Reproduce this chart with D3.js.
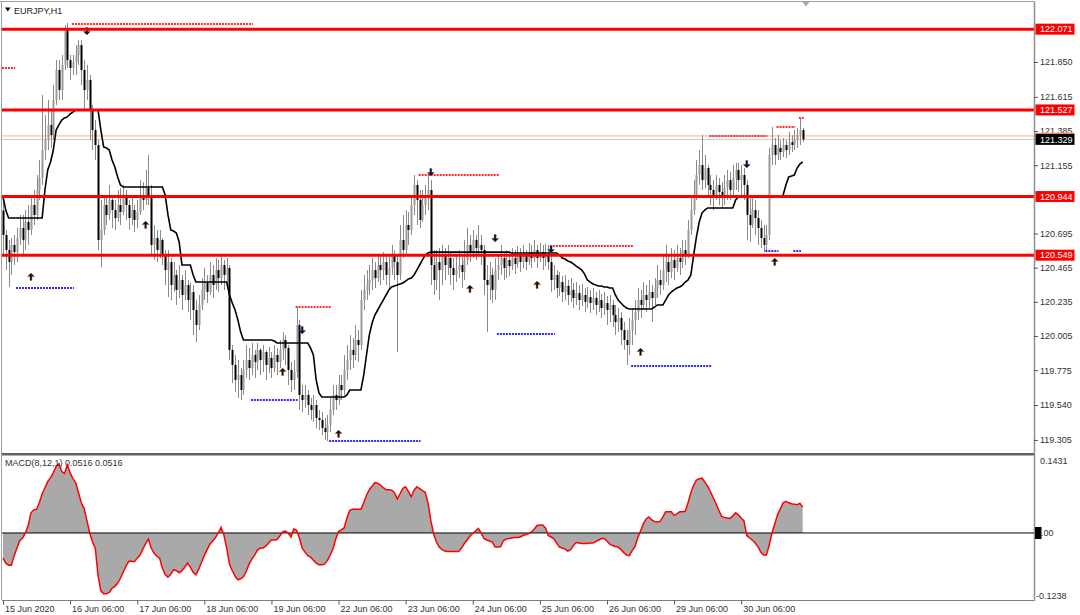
<!DOCTYPE html>
<html><head><meta charset="utf-8">
<script src="https://cdn.jsdelivr.net/npm/d3@7"></script>
<style>
body{margin:0;background:#fff;}
svg{display:block;font-family:"Liberation Sans",Arial,sans-serif;}
</style>
</head><body>
<svg id="c" width="1080" height="615"></svg>
<script>
// ---------------- DATA ----------------
const symbolTitle = "EURJPY,H1";
const macdTitle = "MACD(8,12,1) 0.0516 0.0516";
const firstOpen = 120.85;
const closes = [120.685,120.584,120.503,120.618,120.570,120.665,120.732,120.651,120.773,120.719,
120.887,120.820,120.988,121.069,121.257,121.325,121.426,121.358,121.594,121.796,
121.661,121.830,122.065,121.863,121.810,121.850,121.897,121.964,121.796,121.661,
121.729,121.527,121.392,121.291,120.651,120.719,120.887,120.820,120.921,120.853,
120.799,120.887,120.840,120.954,120.887,120.799,120.853,120.786,120.840,120.954,
120.921,121.002,120.954,120.618,120.665,120.584,120.651,120.550,120.449,120.503,
120.348,120.416,120.315,120.382,120.281,120.348,120.247,120.301,120.180,120.079,
120.214,120.315,120.368,120.301,120.416,120.348,120.449,120.395,120.483,120.416,
120.463,119.911,119.810,119.709,119.742,119.641,119.776,119.843,119.789,119.877,
119.830,119.911,119.843,119.897,119.810,119.857,119.789,119.877,119.830,119.911,
119.978,119.924,119.776,119.709,119.762,120.079,119.608,119.574,119.608,119.540,
119.507,119.540,119.453,119.439,119.385,119.358,119.406,119.507,119.608,119.574,
119.675,119.641,119.776,119.843,119.911,119.877,119.978,119.944,120.247,120.315,
120.348,120.382,120.449,120.395,120.483,120.449,120.503,120.416,120.463,120.550,
120.503,120.416,120.651,120.584,120.752,120.719,120.887,121.022,120.921,120.786,
120.887,120.954,120.988,120.483,120.382,120.503,120.449,120.550,120.483,120.530,
120.463,120.416,120.449,120.483,120.436,120.517,120.618,120.570,120.651,120.597,
120.618,120.584,120.382,120.348,120.416,120.315,120.449,120.483,120.530,120.463,
120.517,120.476,120.530,120.490,120.550,120.503,120.544,120.503,120.570,120.530,
120.584,120.530,120.570,120.530,120.557,120.503,120.382,120.416,120.328,120.368,
120.301,120.342,120.281,120.315,120.261,120.294,120.247,120.281,120.234,120.267,
120.227,120.261,120.214,120.247,120.193,120.227,120.180,120.214,120.146,120.099,
120.126,120.045,119.978,119.944,120.045,120.113,120.166,120.247,120.214,120.281,
120.247,120.301,120.261,120.328,120.382,120.348,120.449,120.503,120.436,120.517,
120.463,120.530,120.503,120.584,120.550,120.719,120.853,120.954,121.089,121.156,
121.055,121.136,121.022,120.988,120.954,121.022,120.975,120.934,121.002,121.055,
120.988,121.069,121.123,121.055,121.089,121.022,120.820,120.752,120.853,120.799,
120.732,120.665,120.618,120.685,121.224,121.291,121.224,121.271,121.244,121.291,
121.257,121.311,121.291,121.325,121.358,121.392,121.329];
const highs = [120.921,120.719,120.651,120.665,120.685,120.732,120.820,120.820,120.853,120.887,
120.954,120.988,121.089,121.190,121.628,121.493,121.594,121.527,121.695,121.863,
121.863,121.897,122.099,122.113,121.897,121.897,121.964,121.998,121.998,121.863,
121.830,121.762,121.560,121.459,121.325,120.921,120.954,120.954,121.022,120.954,
120.921,120.988,121.002,121.022,120.988,120.921,120.954,120.887,120.921,121.055,
121.042,121.123,121.224,121.022,120.752,120.719,120.719,120.665,120.584,120.584,
120.530,120.503,120.449,120.483,120.416,120.449,120.382,120.362,120.348,120.247,
120.281,120.395,120.463,120.416,120.503,120.483,120.530,120.517,120.537,120.517,
120.530,120.483,119.944,119.877,119.843,119.789,119.843,119.944,119.924,119.958,
119.911,119.958,119.924,119.944,119.911,119.931,119.897,119.944,119.924,119.978,
120.031,120.011,119.944,119.830,119.843,120.200,120.113,119.675,119.675,119.641,
119.588,119.608,119.574,119.507,119.493,119.453,119.473,119.588,119.675,119.675,
119.742,119.742,119.877,119.944,120.011,119.991,120.079,120.045,120.315,120.416,
120.449,120.483,120.530,120.503,120.550,120.550,120.570,120.550,120.550,120.618,
120.584,120.550,120.752,120.820,120.853,120.840,120.954,121.089,121.055,120.988,
120.988,121.022,121.089,121.055,120.584,120.584,120.597,120.618,120.597,120.618,
120.570,120.530,120.550,120.584,120.544,120.651,120.732,120.685,120.719,120.685,
120.752,120.685,120.618,120.483,120.503,120.463,120.530,120.550,120.618,120.570,
120.584,120.570,120.597,120.584,120.611,120.597,120.618,120.584,120.631,120.618,
120.651,120.618,120.631,120.618,120.624,120.618,120.550,120.483,120.449,120.436,
120.409,120.416,120.382,120.395,120.362,120.368,120.348,120.355,120.328,120.335,
120.315,120.328,120.301,120.315,120.288,120.301,120.274,120.281,120.247,120.214,
120.193,120.166,120.099,120.045,120.126,120.193,120.247,120.328,120.315,120.368,
120.348,120.382,120.348,120.395,120.483,120.449,120.550,120.618,120.550,120.597,
120.584,120.618,120.597,120.651,120.651,120.786,120.954,121.055,121.190,121.257,
121.358,121.224,121.156,121.089,121.055,121.089,121.069,121.042,121.089,121.123,
121.109,121.156,121.170,121.170,121.156,121.136,121.055,120.954,120.954,120.921,
120.853,120.786,120.752,120.752,121.271,121.412,121.338,121.358,121.325,121.338,
121.325,121.379,121.358,121.392,121.406,121.473,121.406];
const lows = [120.550,120.449,120.335,120.416,120.483,120.503,120.618,120.550,120.584,120.618,
120.685,120.752,120.786,120.921,121.022,121.190,121.257,121.271,121.325,121.560,
121.594,121.594,121.796,121.810,121.729,121.762,121.762,121.830,121.695,121.527,
121.594,121.325,121.257,121.190,120.584,120.469,120.685,120.752,120.786,120.732,
120.719,120.773,120.752,120.820,120.786,120.719,120.752,120.705,120.732,120.820,
120.853,120.887,120.887,120.550,120.517,120.503,120.530,120.483,120.348,120.267,
120.247,120.301,120.214,120.261,120.180,120.247,120.166,120.113,120.011,119.964,
120.045,120.180,120.247,120.227,120.281,120.261,120.315,120.301,120.348,120.315,
120.348,119.843,119.688,119.628,119.588,119.574,119.608,119.722,119.709,119.742,
119.722,119.776,119.742,119.762,119.709,119.756,119.722,119.762,119.742,119.789,
119.843,119.810,119.675,119.628,119.641,119.722,119.507,119.493,119.520,119.473,
119.439,119.426,119.385,119.372,119.338,119.305,119.298,119.358,119.473,119.507,
119.540,119.574,119.608,119.709,119.776,119.789,119.843,119.830,119.911,120.180,
120.247,120.281,120.315,120.328,120.368,120.348,120.382,120.348,120.315,120.416,
120.382,119.897,120.382,120.530,120.550,120.618,120.685,120.820,120.752,120.732,
120.773,120.820,120.853,120.348,120.281,120.315,120.247,120.348,120.382,120.416,
120.348,120.315,120.368,120.395,120.328,120.382,120.483,120.503,120.530,120.517,
120.550,120.483,120.281,120.031,120.247,120.227,120.247,120.382,120.416,120.382,
120.395,120.409,120.449,120.422,120.463,120.436,120.463,120.449,120.483,120.463,
120.503,120.463,120.503,120.449,120.476,120.449,120.301,120.315,120.261,120.274,
120.234,120.247,120.214,120.234,120.193,120.214,120.180,120.207,120.166,120.193,
120.160,120.180,120.146,120.166,120.126,120.146,120.079,120.099,120.065,120.011,
120.031,119.944,119.911,119.810,119.877,119.944,120.011,120.113,120.126,120.180,
120.166,120.193,120.099,120.214,120.261,120.281,120.315,120.368,120.348,120.395,
120.382,120.436,120.416,120.463,120.483,120.530,120.685,120.820,120.921,121.022,
120.988,121.002,120.954,120.887,120.853,120.921,120.887,120.867,120.887,120.921,
120.921,120.954,120.988,120.975,120.954,120.921,120.651,120.638,120.732,120.685,
120.618,120.597,120.570,120.584,120.651,121.156,121.156,121.190,121.190,121.210,
121.204,121.224,121.244,121.257,121.271,121.291,121.311];
// stepped trailing line (black)
const trail = [120.941,120.853,120.799,120.799,120.799,120.799,120.799,120.799,120.799,120.799,
120.799,120.799,120.799,120.799,120.799,120.988,121.123,121.177,121.257,121.392,
121.426,121.459,121.473,121.480,121.500,121.513,121.527,121.527,121.527,121.527,
121.527,121.527,121.527,121.527,121.527,121.392,121.278,121.271,121.257,121.190,
121.143,121.076,121.022,121.008,121.008,121.008,121.008,121.008,121.008,121.008,
121.008,121.008,121.008,121.008,121.008,121.008,121.008,121.008,120.954,120.820,
120.719,120.712,120.698,120.638,120.483,120.483,120.483,120.483,120.416,120.368,
120.368,120.368,120.368,120.368,120.368,120.368,120.368,120.368,120.368,120.368,
120.368,120.281,120.227,120.180,120.113,120.031,119.978,119.978,119.978,119.978,
119.978,119.978,119.978,119.978,119.978,119.978,119.978,119.971,119.958,119.958,
119.958,119.958,119.958,119.958,119.958,119.958,119.958,119.958,119.958,119.958,
119.924,119.877,119.709,119.621,119.594,119.594,119.594,119.594,119.594,119.594,
119.594,119.594,119.594,119.608,119.641,119.641,119.641,119.641,119.641,119.742,
119.877,120.011,120.092,120.146,120.180,120.214,120.247,120.281,120.315,120.335,
120.342,120.348,120.355,120.362,120.375,120.389,120.395,120.416,120.449,120.483,
120.517,120.550,120.564,120.570,120.570,120.570,120.570,120.570,120.570,120.570,
120.570,120.570,120.570,120.570,120.570,120.570,120.570,120.570,120.570,120.570,
120.570,120.570,120.570,120.570,120.570,120.570,120.570,120.570,120.570,120.570,
120.570,120.570,120.564,120.564,120.564,120.564,120.564,120.564,120.564,120.564,
120.564,120.564,120.564,120.564,120.564,120.564,120.564,120.564,120.564,120.550,
120.530,120.523,120.510,120.503,120.490,120.476,120.463,120.449,120.422,120.382,
120.368,120.355,120.348,120.342,120.342,120.335,120.335,120.328,120.328,120.281,
120.247,120.227,120.207,120.193,120.187,120.187,120.187,120.187,120.187,120.187,
120.187,120.187,120.187,120.200,120.214,120.214,120.214,120.247,120.281,120.301,
120.315,120.328,120.335,120.348,120.368,120.382,120.416,120.550,120.672,120.773,
120.833,120.853,120.867,120.867,120.867,120.867,120.867,120.867,120.867,120.867,
120.867,120.867,120.921,120.941,120.941,120.941,120.941,120.941,120.941,120.941,
120.941,120.941,120.941,120.941,120.941,120.941,120.941,120.941,120.941,120.954,
121.022,121.076,121.082,121.089,121.136,121.163,121.177];
const macd = [-0.050,-0.060,-0.064,-0.064,-0.045,-0.030,-0.015,-0.010,0.000,0.015,
0.040,0.046,0.047,0.060,0.078,0.090,0.102,0.110,0.120,0.132,
0.138,0.122,0.118,0.135,0.120,0.108,0.100,0.080,0.060,0.049,
0.025,0.000,-0.018,-0.030,-0.085,-0.115,-0.121,-0.121,-0.118,-0.110,
-0.106,-0.100,-0.090,-0.078,-0.066,-0.056,-0.056,-0.057,-0.050,-0.044,
-0.032,-0.021,-0.012,-0.030,-0.040,-0.046,-0.050,-0.070,-0.082,-0.088,
-0.082,-0.073,-0.075,-0.079,-0.075,-0.068,-0.060,-0.068,-0.078,-0.083,
-0.072,-0.058,-0.045,-0.033,-0.022,-0.016,-0.009,0.000,0.011,-0.004,
-0.030,-0.062,-0.075,-0.086,-0.093,-0.091,-0.087,-0.076,-0.062,-0.052,
-0.044,-0.034,-0.030,-0.030,-0.026,-0.020,-0.014,-0.014,-0.013,-0.006,
0.002,0.004,0.000,-0.008,0.008,0.006,-0.010,-0.030,-0.038,-0.045,
-0.048,-0.054,-0.060,-0.063,-0.063,-0.062,-0.055,-0.044,-0.032,-0.012,
0.003,0.006,0.010,0.030,0.045,0.047,0.047,0.047,0.047,0.060,
0.075,0.086,0.093,0.100,0.099,0.095,0.090,0.086,0.086,0.085,
0.080,0.068,0.078,0.089,0.092,0.082,0.072,0.085,0.092,0.088,
0.084,0.081,0.060,0.025,-0.002,-0.018,-0.028,-0.033,-0.036,-0.037,
-0.037,-0.037,-0.037,-0.037,-0.030,-0.021,-0.014,-0.006,-0.001,0.004,
0.009,0.000,-0.011,-0.014,-0.016,-0.018,-0.028,-0.028,-0.027,-0.015,
-0.012,-0.011,-0.010,-0.009,-0.009,-0.008,-0.005,-0.003,-0.001,0.002,
0.008,0.015,0.016,0.016,0.010,-0.005,-0.008,-0.011,-0.020,-0.028,
-0.030,-0.032,-0.036,-0.033,-0.025,-0.019,-0.020,-0.021,-0.021,-0.021,
-0.020,-0.020,-0.017,-0.014,-0.011,-0.011,-0.016,-0.022,-0.025,-0.027,
-0.028,-0.033,-0.039,-0.044,-0.045,-0.035,-0.027,-0.010,0.004,0.018,
0.028,0.032,0.026,0.023,0.022,0.023,0.032,0.042,0.042,0.042,
0.035,0.038,0.042,0.042,0.043,0.060,0.080,0.095,0.105,0.108,
0.109,0.101,0.093,0.082,0.070,0.058,0.045,0.033,0.031,0.030,
0.029,0.034,0.040,0.036,0.030,0.024,-0.005,-0.010,-0.014,-0.020,
-0.027,-0.038,-0.044,-0.044,-0.025,0.000,0.018,0.036,0.048,0.060,
0.063,0.060,0.058,0.057,0.056,0.059,0.0516];
const dateBars = [0,24,48,72,96,120,144,168,192,216,240,264];
const dateLabels = ["15 Jun 2020","16 Jun 06:00","17 Jun 06:00","18 Jun 06:00","19 Jun 06:00","22 Jun 06:00",
  "23 Jun 06:00","24 Jun 06:00","25 Jun 06:00","26 Jun 06:00","29 Jun 06:00","30 Jun 06:00"];
const priceTicks = [121.850,121.615,121.385,121.155,120.695,120.465,120.235,120.005,119.775,119.540,119.305];
const levelLines = [122.071,121.527,120.944,120.549];
const bidPrice = 121.329;
const askPrice = 121.352;
// [fromBar, toBar, price]
const resistDots = [[0,4,121.810],[25,89,122.106],[105,117,120.200],[149,177,121.089],
  [197,225,120.611],[253,273,121.352],[277,283,121.412],[285,286,121.473]];
const supportDots = [[5,25,120.328],[89,105,119.574],[117,149,119.298],[177,197,120.018],
  [225,253,119.803],[273,277,120.577],[283,285,120.577]];
// [bar, price]
const downArrows = [[30,122.059],[107,120.045],[153,121.109],[176,120.665],[196,120.591],[266,121.163]];
const upArrows = [[10,120.402],[51,120.752],[100,119.762],[120,119.345],[167,120.321],[191,120.348],[228,119.897],[276,120.503]];
const macdTicks = [0.1431, 0, -0.1238];
const macdTickLabels = ["0.1431","0.00","-0.1238"];

// ---------------- LAYOUT ----------------
const svg = d3.select("#c");
const L = 2, R = 1034, mainTop = 2, mainBot = 453, macdTop = 456, macdBot = 600;
const x = d3.scaleLinear().domain([0, closes.length - 1]).range([3, 802.7]);
const y = d3.scaleLinear().domain([119.217, 122.254]).range([mainBot, mainTop]);
const ym = d3.scaleLinear().domain([-0.1332, 0.155]).range([macdBot, 455]);
const opens = closes.map((c, i) => i === 0 ? firstOpen : closes[i - 1]);

svg.append("rect").attr("width",1080).attr("height",615).attr("fill","#fff");

const defs = svg.append("defs");
defs.append("clipPath").attr("id","clipMain").append("rect")
  .attr("x",L).attr("y",mainTop).attr("width",R-L).attr("height",mainBot-mainTop);

const gMain = svg.append("g").attr("clip-path","url(#clipMain)");

// bid / ask lines
gMain.append("line").attr("x1",L).attr("x2",R).attr("y1",y(askPrice)).attr("y2",y(askPrice))
  .attr("stroke","#ffb08a").attr("stroke-width",1);
gMain.append("line").attr("x1",L).attr("x2",R).attr("y1",y(bidPrice)).attr("y2",y(bidPrice))
  .attr("stroke","#c8c8c8").attr("stroke-width",1);

// candles
const cg = gMain.append("g");
closes.forEach((c, i) => {
  const o = opens[i];
  const hi = Math.max(highs[i], o, c), lo = Math.min(lows[i], o, c);
  const cx = Math.round(x(i)) + 0.5;
  cg.append("line").attr("x1",cx).attr("x2",cx).attr("y1",y(hi)).attr("y2",y(lo))
    .attr("stroke","#8a8a8a").attr("stroke-width",1);
  const top = y(Math.max(o, c)), bot = y(Math.min(o, c));
  cg.append("rect").attr("x",cx - 1).attr("width",2)
    .attr("y",top).attr("height",Math.max(1, bot - top))
    .attr("fill", c < o ? "#000" : "#9a9a9a");
});

// trailing line
gMain.append("path").datum(trail)
  .attr("d", d3.line().x((d,i)=>x(i)).y(d=>y(d)))
  .attr("fill","none").attr("stroke","#000").attr("stroke-width",1.6);

// dotted levels
function dots(arr, color){
  gMain.append("g").selectAll("line").data(arr).join("line")
    .attr("x1",d=>x(d[0])-1).attr("x2",d=>x(d[1])+1)
    .attr("y1",d=>y(d[2])).attr("y2",d=>y(d[2]))
    .attr("stroke",color).attr("stroke-width",2).attr("stroke-dasharray","2,1");
}
dots(resistDots, "#ff2a2a");
dots(supportDots, "#2a2aff");

// arrows
function arrow(cx, cy, up){
  const s = up ? 1 : -1;
  return `M${cx},${cy - 4*s} L${cx+3.5},${cy - 0.5*s} L${cx+1},${cy - 0.5*s} L${cx+1},${cy + 3.5*s} L${cx-1},${cy + 3.5*s} L${cx-1},${cy - 0.5*s} L${cx-3.5},${cy - 0.5*s} Z`;
}
gMain.append("g").selectAll("path.up").data(upArrows).join("path")
  .attr("d",d=>arrow(x(d[0]), y(d[1]), true)).attr("fill","#111").attr("stroke","#b05a20").attr("stroke-width",0.4);
gMain.append("g").selectAll("path.dn").data(downArrows).join("path")
  .attr("d",d=>arrow(x(d[0]), y(d[1]), false)).attr("fill","#111").attr("stroke","#3050b0").attr("stroke-width",0.4);

// horizontal red levels
gMain.append("g").selectAll("line").data(levelLines).join("line")
  .attr("x1",L).attr("x2",R).attr("y1",d=>y(d)).attr("y2",d=>y(d))
  .attr("stroke","#ff0000").attr("stroke-width",3);

// ---------------- FRAME ----------------
svg.append("line").attr("x1",0).attr("x2",R).attr("y1",1.5).attr("y2",1.5).attr("stroke","#a0a0a0");
svg.append("line").attr("x1",1.5).attr("x2",1.5).attr("y1",1.5).attr("y2",macdBot).attr("stroke","#a0a0a0");
svg.append("line").attr("x1",L).attr("x2",R).attr("y1",mainBot+1).attr("y2",mainBot+1).attr("stroke","#606060").attr("stroke-width",2);
svg.append("line").attr("x1",L).attr("x2",R).attr("y1",macdTop-0.5).attr("y2",macdTop-0.5).attr("stroke","#b0b0b0").attr("stroke-width",1);
svg.append("line").attr("x1",L).attr("x2",R).attr("y1",macdBot+0.5).attr("y2",macdBot+0.5).attr("stroke","#808080").attr("stroke-width",1);
svg.append("line").attr("x1",R+0.5).attr("x2",R+0.5).attr("y1",1.5).attr("y2",macdBot+1).attr("stroke","#909090").attr("stroke-width",1.5);

// chart shift marker
svg.append("path").attr("d",`M${x(closes.length)-3},2 L${x(closes.length)+4},2 L${x(closes.length)+0.5},6.5 Z`).attr("fill","#a8a8a8");

// title
svg.append("path").attr("d","M5,7.5 L10.5,7.5 L7.75,11.5 Z").attr("fill","#000");
svg.append("text").attr("x",14).attr("y",14).attr("font-size",9).attr("fill","#222").text(symbolTitle);

// ---------------- PRICE AXIS ----------------
const yAxis = d3.axisRight(y).tickValues(priceTicks).tickFormat(d3.format(".3f")).tickSize(4).tickPadding(2);
const ga = svg.append("g").attr("transform",`translate(${R},0)`).call(yAxis);
ga.select(".domain").remove();
ga.selectAll("line").attr("stroke","#555");
ga.selectAll("text").attr("font-size",9).attr("fill","#333").attr("font-family","Liberation Sans, Arial, sans-serif");

// level labels
const lab = svg.append("g");
levelLines.forEach(v => {
  lab.append("rect").attr("x",R+1.5).attr("y",y(v)-5.5).attr("width",39).attr("height",11).attr("fill","#ff0000");
  lab.append("text").attr("x",R+6).attr("y",y(v)+3.3).attr("font-size",9).attr("fill","#fff").text(d3.format(".3f")(v));
});
lab.append("rect").attr("x",R+1.5).attr("y",y(bidPrice)-5.5).attr("width",39).attr("height",11).attr("fill","#000");
lab.append("line").attr("x1",R+1.5).attr("x2",R+40.5).attr("y1",y(bidPrice)-6).attr("y2",y(bidPrice)-6).attr("stroke","#ff8040").attr("stroke-width",1.2);
lab.append("text").attr("x",R+6).attr("y",y(bidPrice)+3.3).attr("font-size",9).attr("fill","#fff").text(d3.format(".3f")(bidPrice));

// ---------------- MACD ----------------
const gM = svg.append("g");
gM.append("path").datum(macd)
  .attr("d", d3.area().x((d,i)=>x(i)).y0(ym(0)).y1(d=>ym(d)))
  .attr("fill","#a9a9a9");
gM.append("line").attr("x1",L).attr("x2",R).attr("y1",ym(0)).attr("y2",ym(0)).attr("stroke","#000").attr("stroke-width",1);
gM.append("path").datum(macd)
  .attr("d", d3.line().x((d,i)=>x(i)).y(d=>ym(d)))
  .attr("fill","none").attr("stroke","#ff0000").attr("stroke-width",1.5);
svg.append("text").attr("x",5).attr("y",466).attr("font-size",9).attr("fill","#333").text(macdTitle);

// MACD axis labels
macdTicks.forEach((v, k) => {
  const ty = ym(v);
  if (v === 0) {
    svg.append("text").attr("x",R+2).attr("y",ty+3.3).attr("font-size",9).attr("fill","#333").text(macdTickLabels[k]);
    svg.append("rect").attr("x",R+1).attr("y",ty-6).attr("width",6.5).attr("height",12).attr("fill","#000");
  } else {
    svg.append("text").attr("x", v < 0 ? R+2 : R+6).attr("y",ty+3.3).attr("font-size",9).attr("fill","#333").text(macdTickLabels[k]);
  }
});

// ---------------- TIME AXIS ----------------
const xAxis = d3.axisBottom(x).tickValues(dateBars).tickFormat((d,i)=>dateLabels[i]).tickSize(4).tickPadding(1);
const gx = svg.append("g").attr("transform",`translate(0,${macdBot+0.5})`).call(xAxis);
gx.select(".domain").remove();
gx.selectAll("line").attr("stroke","#555");
gx.selectAll("text").attr("text-anchor","start").attr("dx",1.5).attr("font-size",9).attr("fill","#333")
  .attr("font-family","Liberation Sans, Arial, sans-serif");
</script>
</body></html>
